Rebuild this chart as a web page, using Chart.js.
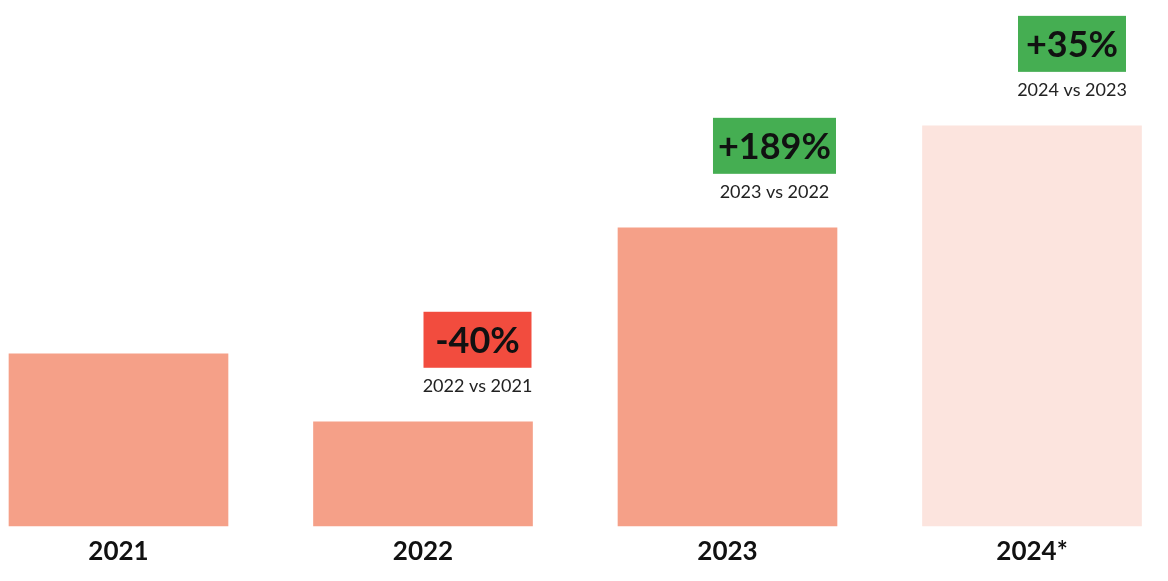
<!DOCTYPE html>
<html>
<head>
<meta charset="utf-8">
<script src="https://cdn.jsdelivr.net/npm/chart.js@4/dist/chart.umd.min.js"></script>
<style>
  html, body { margin: 0; padding: 0; background: #ffffff; }
  #wrap { width: 1168px; height: 581px; position: relative; }
</style>
</head>
<body>
<div id="wrap"><canvas id="c" width="1168" height="581"></canvas></div>
<script>
// ---- data ----
const categories = ['2021', '2022', '2023', '2024*'];
const values = [100, 60.5, 173.3, 232.6];
const barColors = ['#F5A088', '#F5A088', '#F5A088', '#FCE4DE'];
const changeLabels = [null, '-40%', '+189%', '+35%'];
const compareLabels = [null, '2022 vs 2021', '2023 vs 2022', '2024 vs 2023'];
const changeColors = [null, '#F24C3E', '#45AE52', '#45AE52'];

const FONT = 'Lato, "Open Sans", sans-serif';

const annotationPlugin = {
  id: 'changeBoxes',
  afterDatasetsDraw(chart) {
    const ctx = chart.ctx;
    const meta = chart.getDatasetMeta(0);
    ctx.save();
    meta.data.forEach((bar, i) => {
      if (!changeLabels[i]) return;
      const half = bar.width / 2;
      const barRight = bar.x + half;
      ctx.font = 'bold 36px ' + FONT;
      const tw = ctx.measureText(changeLabels[i]).width;
      const boxW = Math.max(tw + 10, 108);
      const boxH = 56;
      const right = Math.min(barRight - 1, chart.width - 42);
      const cx = right - boxW / 2;
      const boxBottom = bar.y - 54;
      const boxTop = boxBottom - boxH;
      ctx.fillStyle = changeColors[i];
      ctx.fillRect(cx - boxW / 2, boxTop, boxW, boxH);
      ctx.fillStyle = '#111111';
      ctx.textAlign = 'center';
      ctx.textBaseline = 'middle';
      ctx.fillText(changeLabels[i], cx, boxTop + boxH / 2 + 2);
      ctx.font = '18px ' + FONT;
      ctx.fillStyle = '#222222';
      ctx.fillText(compareLabels[i], cx, boxBottom + 18);
    });
    ctx.restore();
  }
};

new Chart(document.getElementById('c'), {
  type: 'bar',
  data: {
    labels: categories,
    datasets: [{
      data: values,
      backgroundColor: barColors,
      borderWidth: 0,
      barThickness: 219,
      clip: false
    }]
  },
  options: {
    responsive: false,
    animation: false,
    devicePixelRatio: 1,
    layout: { padding: { left: 118.5, right: 136, top: 0, bottom: 4 } },
    plugins: { legend: { display: false }, tooltip: { enabled: false } },
    scales: {
      x: {
        offset: false,
        grid: { display: false, drawTicks: false },
        border: { display: false },
        ticks: {
          color: '#111111',
          font: { family: FONT, size: 26, weight: 'bold' },
          padding: 10,
          maxRotation: 0,
          autoSkip: false
        }
      },
      y: {
        display: false,
        min: 0,
        max: 305.8
      }
    }
  },
  plugins: [annotationPlugin]
});
</script>
</body>
</html>
